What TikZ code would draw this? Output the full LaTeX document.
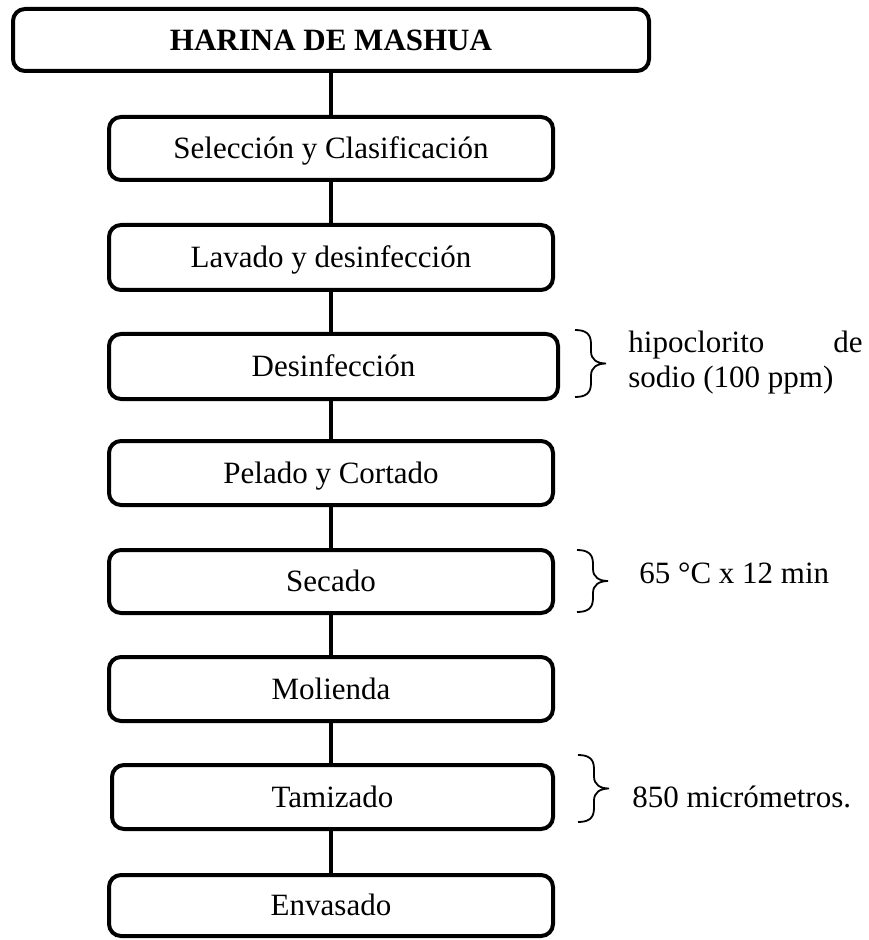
\documentclass[tikz,border=0pt]{standalone}
\usepackage{fontspec}
\setmainfont{Liberation Serif}
\usetikzlibrary{positioning}

% Curly brace opening to the right: x of the left tips, top y, bottom y
\newcommand{\sidebrace}[3]{%
  \draw[bracestyle] (#1,#2)
    .. controls (#1+11,#2) and (#1+16,#2+4) .. (#1+16,#2+14)
    -- (#1+16,{(#2+#3)/2-12})
    .. controls (#1+16,{(#2+#3)/2-4}) and (#1+22,{(#2+#3)/2}) .. (#1+31,{(#2+#3)/2})
    .. controls (#1+22,{(#2+#3)/2}) and (#1+16,{(#2+#3)/2+4}) .. (#1+16,{(#2+#3)/2+12})
    -- (#1+16,#3-14)
    .. controls (#1+16,#3-4) and (#1+11,#3) .. (#1,#3);}

\tikzset{
  txt/.style={font=\fontsize{15.5pt}{17pt}\selectfont},
  stepbox/.style={txt, draw, line width=2pt, rounded corners=6pt,
    minimum width=222pt, inner sep=0pt, text height=10.2pt, text depth=0pt},
  link/.style={line width=1.6pt},
  bracestyle/.style={line width=0.9pt},
  note/.style={txt, anchor=base west, inner sep=0pt},
}

\begin{document}
\begin{tikzpicture}[x=0.5pt, y=-0.5pt]
  \useasboundingbox (0,0) rectangle (868,940);

  % process steps
  \node[stepbox, minimum width=318pt, minimum height=31pt, font=\fontsize{15.5pt}{17pt}\selectfont\bfseries]
    (title) at (331,40) {HARINA DE MASHUA};
  \node[stepbox, minimum height=31.5pt] (b1) at (331,148.5) {Selección y Clasificación};
  \node[stepbox, minimum height=32.5pt] (b2) at (331,257.5) {Lavado y desinfección};
  \node[stepbox, minimum height=32.5pt, minimum width=224.5pt] (b3) at (333.5,366.5) {Desinfección};
  \node[stepbox, minimum height=32pt] (b4) at (331,473) {Pelado y Cortado};
  \node[stepbox, minimum height=31.5pt] (b5) at (331,581.5) {Secado};
  \node[stepbox, minimum height=32pt] (b6) at (331,689) {Molienda};
  \node[stepbox, minimum height=32pt, minimum width=220.5pt] (b7) at (332.5,797) {Tamizado};
  \node[stepbox, minimum height=30.5pt] (b8) at (331,905.5) {Envasado};

  % vertical links between steps
  \foreach \a/\b in {title/b1, b1/b2, b2/b3, b3/b4, b4/b5, b5/b6, b6/b7, b7/b8}
    \draw[link] (b1.center |- \a.south) -- (b1.center |- \b.north);

  % process conditions
  \sidebrace{575}{330}{397}
  \node[note] (n1a) at (628,353) {hipoclorito};
  \node[note, anchor=base east] (n1b) at (863,353) {de};
  \node[note] (n1c) at (628,387) {sodio (100 ppm)};

  \sidebrace{577}{550}{612}
  \node[note] (n2) at (639,583) {65 °C x 12 min};

  \sidebrace{578}{755}{822}
  \node[note] (n3) at (632,807) {850 micrómetros.};
\end{tikzpicture}
\end{document}
